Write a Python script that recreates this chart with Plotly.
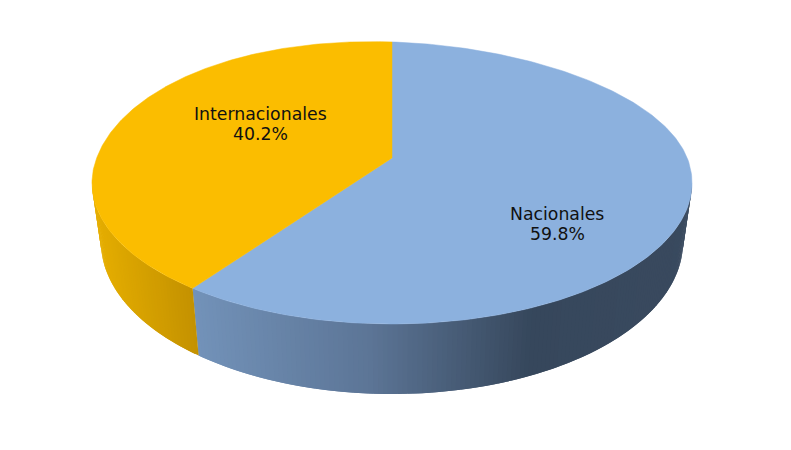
import numpy as np
import plotly.graph_objects as go

categories = ["Nacionales", "Internacionales"]
values = [59.8, 40.2]
top_colors = ["#8CB1DE", "#FBBD00"]
side_stops = [
    [(190, (115, 147, 186)), (370, (92, 117, 150)), (530, (54, 71, 92)), (700, (58, 74, 95))],
    [(90, (232, 176, 0)), (195, (196, 146, 0))],
]
label_pos = [(557, 214, 234), (260, 114, 134)]

W, H = 791, 450
CX, RX_SCALE, VERTEX_Y = 392, 295.3, 158
A, C = 136.6, -0.177
BOTTOM_CY, BOTTOM_SX, BOTTOM_SY = 242, 0.97, 1.078
BACK_SKEW = 4


def project(theta):
    u, v = np.sin(theta), -np.cos(theta)
    d = 1 + C * v
    return RX_SCALE * u / d, VERTEX_Y + A * v / d


def top_pt(theta):
    x, y = project(theta)
    # The far rim of the reference leans slightly to the left.
    y = y + BACK_SKEW * np.sin(2 * theta) * (np.cos(theta) > 0)
    return CX + x, y


def bot_pt(theta):
    x, y = project(theta)
    return CX + BOTTOM_SX * x, BOTTOM_CY + BOTTOM_SY * (y - 183)


def side_color(stops, x):
    xs = [s[0] for s in stops]
    rgb = [np.interp(x, xs, [s[1][i] for s in stops]) for i in range(3)]
    return "rgb(%d,%d,%d)" % tuple(int(round(c)) for c in rgb)


fractions = np.cumsum([0] + values) / sum(values)
fig = go.Figure()

# Side wall first: overlapping strips, painted in sweep order, so no seams show.
VIS_START = float(np.arccos(C))
VIS_END = 2 * np.pi - VIS_START
for i in range(len(values)):
    a0 = max(fractions[i] * 2 * np.pi, VIS_START)
    a1 = min(fractions[i + 1] * 2 * np.pi, VIS_END)
    n = max(2, int(np.degrees(a1 - a0) / 0.8))
    edges = np.linspace(a0, a1, n + 1)
    step = edges[1] - edges[0]
    for s, e in zip(edges[:-1], edges[1:]):
        e2 = min(e + step, a1)
        tx0, ty0 = top_pt(s)
        tx1, ty1 = top_pt(e2)
        tm, _ = top_pt((s + e) / 2)
        bm, _ = bot_pt((s + e) / 2)
        bx0, by0 = bot_pt(s)
        bx1, by1 = bot_pt(e2)
        col = side_color(side_stops[i], (tm + bm) / 2)
        fig.add_trace(go.Scatter(
            x=[tx0, tx1, bx1, bx0, tx0], y=[ty0, ty1, by1, by0, ty0],
            mode="lines", fill="toself", fillcolor=col,
            line=dict(width=0), hoverinfo="skip", showlegend=False))

# Top face.
for i, cat in enumerate(categories):
    th = np.linspace(fractions[i] * 2 * np.pi, fractions[i + 1] * 2 * np.pi, 240)
    xs, ys = top_pt(th)
    fig.add_trace(go.Scatter(
        x=np.r_[CX, xs, CX], y=np.r_[VERTEX_Y, ys, VERTEX_Y],
        mode="lines", fill="toself", fillcolor=top_colors[i],
        line=dict(color=top_colors[i], width=0.5), name=cat,
        hoverinfo="name", showlegend=False))

for cat, val, (lx, y1, y2) in zip(categories, values, label_pos):
    for txt, ly in ((cat, y1), (f"{val:.1f}%", y2)):
        fig.add_annotation(x=lx, y=ly, xref="x", yref="y", showarrow=False, align="center",
                           text=txt, font=dict(family="DejaVu Sans", size=17.3, color="#111111"))

fig.update_layout(
    width=W, height=H, margin=dict(l=0, r=0, t=0, b=0),
    paper_bgcolor="white", plot_bgcolor="white", showlegend=False,
    xaxis=dict(range=[0, W], visible=False, fixedrange=True),
    yaxis=dict(range=[H, 0], visible=False, fixedrange=True),
)
fig.write_html("out.html", config={"displayModeBar": False},
               post_script="document.body.style.margin='0';document.body.style.overflow='hidden';")
